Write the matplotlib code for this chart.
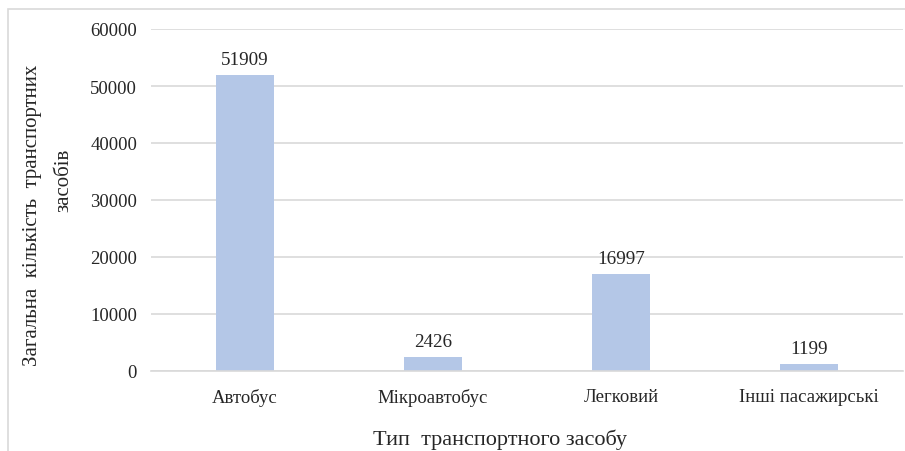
import matplotlib
matplotlib.use("Agg")
import matplotlib.pyplot as plt
from matplotlib.patches import Rectangle

categories = ["Автобус", "Мікроавтобус", "Легковий", "Інші пасажирські"]
values = [51909, 2426, 16997, 1199]
y_ticks = [0, 10000, 20000, 30000, 40000, 50000, 60000]

plt.rcParams["font.family"] = ["Liberation Serif", "DejaVu Serif"]
TEXT = "#262626"
GRID = "#d9d9d9"
W, H = 905, 452

fig = plt.figure(figsize=(W / 100, H / 100), dpi=100)
ax = fig.add_axes([151 / W, 1 - 372 / H, 752 / W, 342 / H])

# chart frame
fig.patches.append(Rectangle((8 / W, -0.1), 1.2, 1 - 10 / H + 0.1,
                             transform=fig.transFigure, fill=False,
                             edgecolor=GRID, linewidth=1.2, zorder=0))

x = range(len(categories))
ax.bar(x, values, width=0.31, color="#b4c7e7", zorder=2)
for xi, v in zip(x, values):
    ax.annotate(str(v), (xi, v), xytext=(0, 5), textcoords="offset points",
                ha="center", va="bottom", fontsize=13.8, color=TEXT)

ax.set_xlim(-0.5, len(categories) - 0.5)
ax.set_ylim(0, 60000)
ax.set_yticks(y_ticks)
ax.set_yticklabels([str(t) for t in y_ticks], fontsize=13.5)
ax.set_xticks(list(x))
ax.set_xticklabels(categories, fontsize=13.5)
ax.tick_params(axis="both", length=0, labelcolor=TEXT)
ax.tick_params(axis="y", pad=10)
ax.tick_params(axis="x", pad=12)
ax.yaxis.grid(True, color=GRID, linewidth=1.2, zorder=0)
ax.set_axisbelow(True)
for s in ["top", "right", "left"]:
    ax.spines[s].set_visible(False)
ax.spines["bottom"].set_color(GRID)
ax.spines["bottom"].set_linewidth(1.2)

# axis titles
fig.text(500 / W, 1 - 440 / H, "Тип  транспортного засобу", fontsize=16,
         color=TEXT, ha="center", va="center")
fig.text(32 / W, 1 - 215 / H, "Загальна  кількість  транспортних", fontsize=15,
         color=TEXT, ha="center", va="center", rotation=90)
fig.text(64 / W, 1 - 180 / H, "засобів", fontsize=15,
         color=TEXT, ha="center", va="center", rotation=90)

fig.savefig("out.png", dpi=100)
